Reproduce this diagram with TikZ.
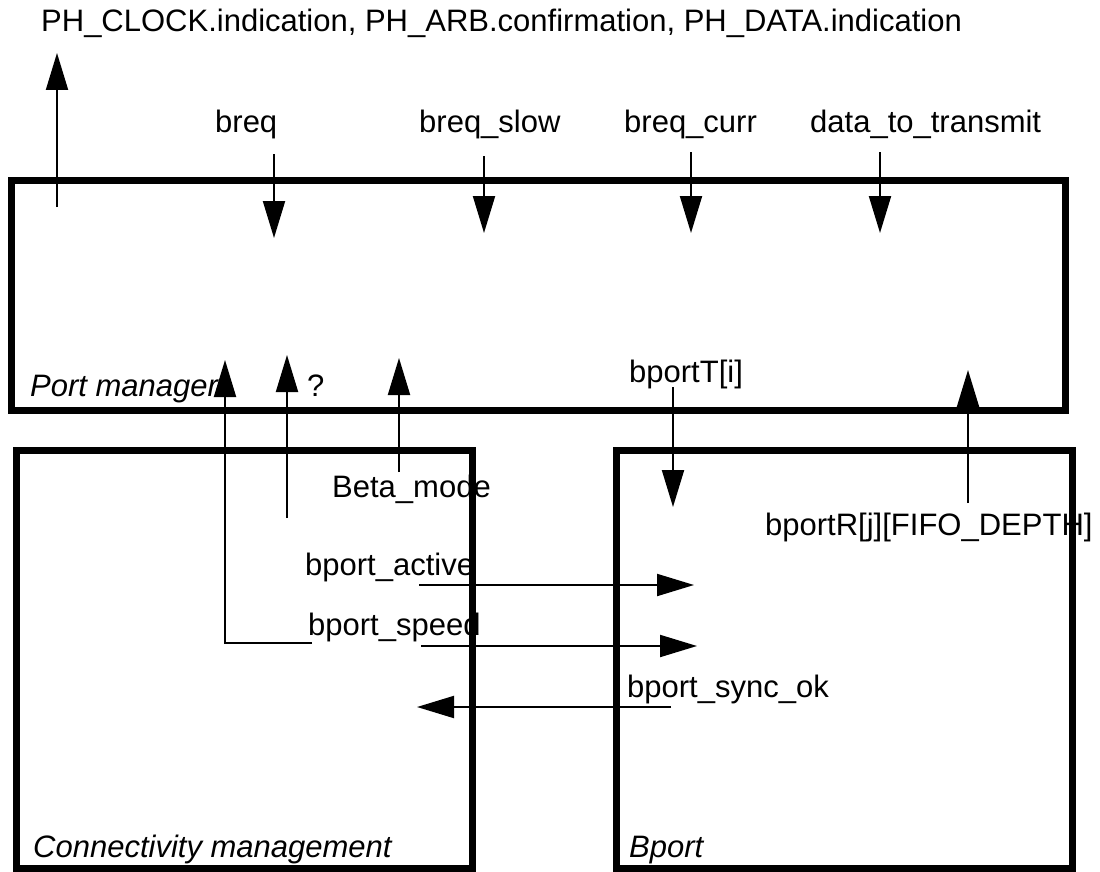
\documentclass[tikz,border=0pt]{standalone}
\usepackage{fontspec}
\setmainfont{Liberation Sans}
\usetikzlibrary{arrows.meta}

\begin{document}
\begin{tikzpicture}[
		x=1pt, y=-1pt,
		block/.style={draw, line width=7pt, inner sep=0pt},
		lbl/.style={font=\fontsize{31}{36}\selectfont, inner sep=0pt, anchor=base west},
		boxname/.style={lbl, font=\fontsize{31}{36}\selectfont\itshape},
		sig/.style={line width=2pt, -{Triangle[length=37pt, width=22pt]}}
	]
	\useasboundingbox (0,0) rectangle (1100,872);

	\node[block, minimum width=1054pt, minimum height=230pt] (pm) at (538,295) {};
	\node[block, minimum width=456pt, minimum height=418pt] (cm) at (244,659) {};
	\node[block, minimum width=456pt, minimum height=418pt] (bp) at (844,659) {};
	\node[boxname] (pm-name) at (30,396) {Port manager};
	\node[boxname] (cm-name) at (33,857) {Connectivity management};
	\node[boxname] (bp-name) at (629,857) {Bport};

	\node[lbl] (ph) at (41,32) {PH\_CLOCK.indication, PH\_ARB.confirmation, PH\_DATA.indication};
	\node[lbl] (breq) at (215,133) {breq};
	\node[lbl] (slow) at (419,133) {breq\_slow};
	\node[lbl] (curr) at (624,133) {breq\_curr};
	\node[lbl] (data) at (810,133) {data\_to\_transmit};
	\node[lbl] (qm) at (307,396) {?};
	\node[lbl] (beta) at (332,497) {Beta\_mode};
	\node[lbl] (bportT) at (629,382) {bportT[i]};
	\node[lbl] (bportR) at (765,535) {bportR[j][FIFO\_DEPTH]};
	\node[lbl] (active) at (305,575) {bport\_active};
	\node[lbl] (speed) at (308,635) {bport\_speed};
	\node[lbl] (sync) at (627,697) {bport\_sync\_ok};

	\coordinate (ph-s) at (57,207);      \coordinate (ph-e) at (57,53);
	\coordinate (breq-s) at (274,154);   \coordinate (breq-e) at (274,238);
	\coordinate (slow-s) at (484,156);   \coordinate (slow-e) at (484,233);
	\coordinate (curr-s) at (691,152);   \coordinate (curr-e) at (691,233);
	\coordinate (data-s) at (880,152);   \coordinate (data-e) at (880,233);
	\coordinate (back-s) at (312,643);   \coordinate (back-e) at (225,360);
	\coordinate (qm-s) at (287,518);     \coordinate (qm-e) at (287,355);
	\coordinate (beta-s) at (399,472);   \coordinate (beta-e) at (399,358);
	\coordinate (bportT-s) at (673,387); \coordinate (bportT-e) at (673,507);
	\coordinate (bportR-s) at (968,503); \coordinate (bportR-e) at (968,370);
	\coordinate (active-s) at (419,585); \coordinate (active-e) at (694,585);
	\coordinate (speed-s) at (421,646);  \coordinate (speed-e) at (697,646);
	\coordinate (sync-s) at (671,707);   \coordinate (sync-e) at (417,707);

	\draw[sig] (ph-s) -- (ph-e);
	\draw[sig] (breq-s) -- (breq-e);
	\draw[sig] (slow-s) -- (slow-e);
	\draw[sig] (curr-s) -- (curr-e);
	\draw[sig] (data-s) -- (data-e);
	\draw[sig] (back-s) -| (back-e);
	\draw[sig] (qm-s) -- (qm-e);
	\draw[sig] (beta-s) -- (beta-e);
	\draw[sig] (bportT-s) -- (bportT-e);
	\draw[sig] (bportR-s) -- (bportR-e);
	\draw[sig] (active-s) -- (active-e);
	\draw[sig] (speed-s) -- (speed-e);
	\draw[sig] (sync-s) -- (sync-e);
\end{tikzpicture}
\end{document}
